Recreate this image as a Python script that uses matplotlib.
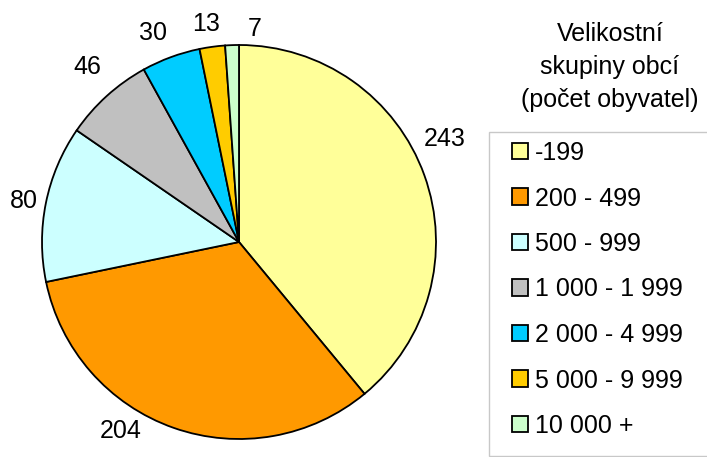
import matplotlib.pyplot as plt
from matplotlib.patches import Rectangle, Patch

plt.rcParams['font.family'] = ['Liberation Sans', 'DejaVu Sans']

# data
groups = ['-199', '200 - 499', '500 - 999', '1 000 - 1 999',
          '2 000 - 4 999', '5 000 - 9 999', '10 000 +']
counts = [243, 204, 80, 46, 30, 13, 7]
colors = ['#FFFF99', '#FF9900', '#CCFFFF', '#C0C0C0',
          '#00CCFF', '#FFCC00', '#CCFFCC']
legend_title = 'Velikostní\nskupiny obcí\n(počet obyvatel)'

# where the value labels sit (pie radius = 1), like in the original
label_xy = [(1.046, 0.523), (-0.599, -0.959), (-1.094, 0.208), (-0.769, 0.886),
            (-0.439, 1.061), (-0.165, 1.107), (0.081, 1.081)]

W, H = 707, 457
FS = 18
fig = plt.figure(figsize=(W / 100, H / 100), dpi=100)

# pie axes: center ~ (239, 242) px, radius ~197 px
r = 197
cx, cy = 239, 242
ax = fig.add_axes([(cx - r) / W, (H - cy - r) / H, 2 * r / W, 2 * r / H])
wedges, _ = ax.pie(counts, colors=colors, startangle=90, counterclock=False,
                   wedgeprops=dict(edgecolor='black', linewidth=1.3))
ax.set_xlim(-1, 1)
ax.set_ylim(-1, 1)
ax.set_aspect('equal')
for c, (x, y) in zip(counts, label_xy):
    ax.text(x, y, str(c), ha='center', va='center', fontsize=FS, clip_on=False)

# legend frame
fig.patches.append(Rectangle((489 / W, 1 - 456 / H), (W - 489 + 5) / W, (456 - 132) / H,
                             transform=fig.transFigure, facecolor='white',
                             edgecolor='#C8C8C8', linewidth=1.0))
fig.text(610 / W, 1 - 67 / H, legend_title, ha='center', va='center',
         fontsize=FS, linespacing=1.45)

handles = [Patch(facecolor=c, edgecolor='black', linewidth=1.3) for c in colors]
fig.legend(handles, groups, loc='upper left', bbox_to_anchor=(512 / W, 1 - 141 / H),
           frameon=False, fontsize=FS, borderpad=0, borderaxespad=0,
           handlelength=0.64, handleheight=0.64, handletextpad=0.28,
           labelspacing=0.86)

fig.savefig('out.png', dpi=100)
